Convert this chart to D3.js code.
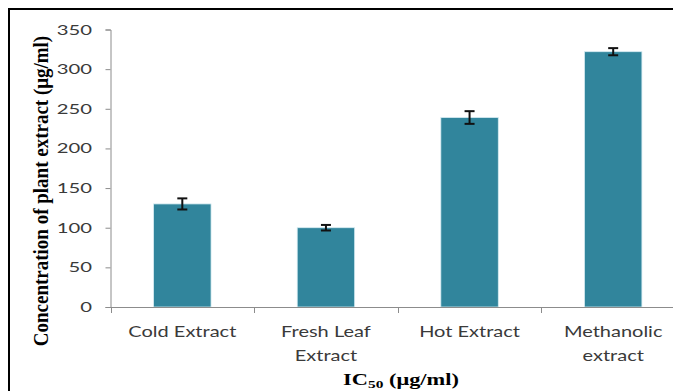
<!DOCTYPE html>
<html>
<head>
<meta charset="utf-8">
<script src="https://cdn.jsdelivr.net/npm/d3@7"></script>
<style>
  html, body { margin: 0; padding: 0; background: #fff; }
  svg { display: block; }
</style>
</head>
<body>
<svg id="chart" width="673" height="391"></svg>
<script>
// IC50 of plant extracts, mean ± error
const categories = ["Cold Extract", "Fresh Leaf\nExtract", "Hot Extract", "Methanolic\nextract"];
const values = [130, 100, 239, 322];
const errors = [7, 3.5, 8, 4.5];
const yTicks = [0, 50, 100, 150, 200, 250, 300, 350];

const svg = d3.select("#chart");

// outer frame
svg.append("rect")
  .attr("x", 9).attr("y", 9)
  .attr("width", 700).attr("height", 420)
  .attr("fill", "none").attr("stroke", "#000").attr("stroke-width", 2);

const x = d3.scaleBand()
  .domain(categories)
  .range([110.5, 685])
  .paddingInner(0.6)
  .paddingOuter(0.3);

const y = d3.scaleLinear().domain([0, 350]).range([307, 29.5]);

const axisColor = "#8c8c8c";
const labelFont = "Lato, 'Open Sans', sans-serif";
const labelColor = "#3a3a3a";

// y axis line and ticks
const yAxis = svg.append("g")
  .attr("transform", "translate(110.5,0)")
  .call(d3.axisLeft(y).tickValues(yTicks).tickSize(5).tickFormat(""));
yAxis.select(".domain").attr("stroke", axisColor);
yAxis.selectAll(".tick line").attr("stroke", axisColor);

// y tick labels, set in a wide face
svg.append("g").selectAll("g")
  .data(yTicks)
  .join("g")
  .attr("transform", d => `translate(92,${y(d) + 5}) scale(1.45,1)`)
  .append("text")
  .attr("text-anchor", "end")
  .attr("fill", labelColor)
  .style("font-family", labelFont)
  .style("font-size", "14px")
  .text(d => d);

// bars
svg.append("g").selectAll("rect")
  .data(values)
  .join("rect")
  .attr("x", (d, i) => x(categories[i]))
  .attr("y", d => y(d))
  .attr("width", x.bandwidth())
  .attr("height", d => y(0) - y(d))
  .attr("fill", "#31859c")
  .attr("stroke", "#d6ecf2")
  .attr("stroke-width", 0.8);

// error bars
const eb = svg.append("g").attr("stroke", "#111").attr("stroke-width", 2);
values.forEach((v, i) => {
  const cx = x(categories[i]) + x.bandwidth() / 2;
  const top = y(v + errors[i]), bot = y(v - errors[i]);
  eb.append("line").attr("x1", cx).attr("x2", cx).attr("y1", top).attr("y2", bot);
  eb.append("line").attr("x1", cx - 5).attr("x2", cx + 5).attr("y1", top).attr("y2", top);
  eb.append("line").attr("x1", cx - 5).attr("x2", cx + 5).attr("y1", bot).attr("y2", bot);
});

// x axis with ticks at category boundaries
const xg = svg.append("g");
xg.append("line")
  .attr("x1", 110.5).attr("x2", 685)
  .attr("y1", y(0) + 0.5).attr("y2", y(0) + 0.5)
  .attr("stroke", axisColor);
const step = x.step();
const x0 = x(categories[0]) - step * x.paddingOuter();
d3.range(categories.length + 1).forEach(k => {
  const tx = Math.round(x0 + k * step) + 0.5;
  xg.append("line")
    .attr("x1", tx).attr("x2", tx)
    .attr("y1", y(0)).attr("y2", y(0) + 6)
    .attr("stroke", axisColor);
});

// category labels
categories.forEach(c => {
  const cx = x(c) + x.bandwidth() / 2;
  c.split("\n").forEach((line, j) => {
    svg.append("g")
      .attr("transform", `translate(${cx},${337 + j * 24}) scale(1.25,1)`)
      .append("text")
      .attr("text-anchor", "middle")
      .attr("fill", labelColor)
      .style("font-family", labelFont)
      .style("font-size", "16px")
      .text(line);
  });
});

// axis titles
const titleFont = "'Liberation Serif', 'Times New Roman', serif";
const xt = svg.append("g")
  .attr("transform", "translate(401,385) scale(1.4,1)")
  .append("text")
  .attr("text-anchor", "middle")
  .attr("fill", "#000")
  .style("font-family", titleFont)
  .style("font-weight", "bold")
  .style("font-size", "16px");
xt.append("tspan").text("IC");
xt.append("tspan").attr("dy", 3).style("font-size", "11px").text("50");
xt.append("tspan").attr("dy", -3).text(" (μg/ml)");

svg.append("g")
  .attr("transform", "translate(48,191) scale(1.15,1) rotate(-90)")
  .append("text")
  .attr("text-anchor", "middle")
  .attr("fill", "#000")
  .style("font-family", titleFont)
  .style("font-weight", "bold")
  .style("font-size", "19px")
  .text("Concentration of plant extract (μg/ml)");
</script>
</body>
</html>
